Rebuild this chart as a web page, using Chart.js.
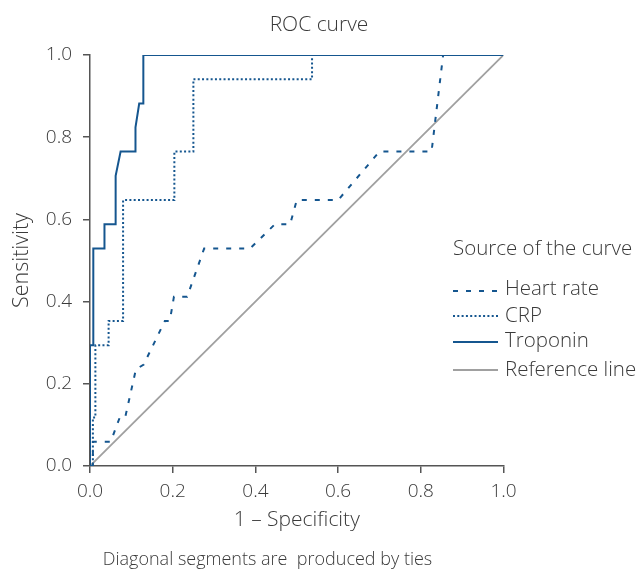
<!DOCTYPE html>
<html>
<head>
<meta charset="utf-8">
<script src="https://cdn.jsdelivr.net/npm/chart.js@4/dist/chart.umd.min.js"></script>
<style>
  body { margin: 0; background: #fff; }
  canvas { display: block; }
</style>
</head>
<body>
<canvas id="rocChart" width="638" height="572"></canvas>
<script>
var heartX = [0, 0.007, 0.007, 0.05, 0.072, 0.085, 0.111, 0.13, 0.181, 0.193, 0.203, 0.235, 0.276, 0.387, 0.447, 0.484, 0.50, 0.60, 0.70, 0.826, 0.854, 1.0];
var heartY = [0, 0, 0.059, 0.059, 0.118, 0.118, 0.235, 0.247, 0.353, 0.353, 0.412, 0.412, 0.529, 0.529, 0.588, 0.588, 0.647, 0.647, 0.765, 0.765, 1.0, 1.0];

var crpX = [0, 0.007, 0.007, 0.013, 0.013, 0.045, 0.045, 0.080, 0.080, 0.204, 0.204, 0.250, 0.250, 0.537, 0.537, 1.0];
var crpY = [0, 0, 0.118, 0.118, 0.294, 0.294, 0.353, 0.353, 0.647, 0.647, 0.765, 0.765, 0.941, 0.941, 1.0, 1.0];

var tropX = [0, 0, 0.008, 0.008, 0.035, 0.035, 0.062, 0.062, 0.074, 0.110, 0.110, 0.119, 0.129, 0.129, 1.0];
var tropY = [0, 0.294, 0.294, 0.529, 0.529, 0.588, 0.588, 0.706, 0.765, 0.765, 0.824, 0.882, 0.882, 1.0, 1.0];

var refX = [0, 1];
var refY = [0, 1];

var seriesNames = ['Heart rate', 'CRP', 'Troponin', 'Reference line'];
var axisTicks = [0, 0.2, 0.4, 0.6, 0.8, 1.0];
var footNote = 'Diagonal segments are  produced by ties';

const blue = '#15568f';
const grey = '#a0a0a0';
const textColor = '#3a3a3a';
const fontFamily = "'Open Sans', 'Liberation Sans', sans-serif";

function toPoints(xs, ys) {
  return xs.map((x, i) => ({x: x, y: ys[i]}));
}

// legend and footnote drawn by hand: the legend sits over the right edge
// of the plot and the note is not centred on the canvas
const sideLegend = {
  id: 'sideLegend',
  afterDatasetsDraw(chart) {
    const ctx = chart.ctx;
    const left = 453;
    ctx.save();
    ctx.fillStyle = textColor;
    ctx.font = '300 20.5px ' + fontFamily;
    ctx.textBaseline = 'alphabetic';
    ctx.textAlign = 'left';
    ctx.fillText('Source of the curve', left, 255);

    const rows = [
      {line: 291, text: 295},
      {line: 316, text: 322},
      {line: 342, text: 347},
      {line: 370, text: 376}
    ];
    chart.data.datasets.forEach((ds, i) => {
      const r = rows[i];
      ctx.save();
      ctx.strokeStyle = ds.borderColor;
      ctx.lineWidth = ds.borderWidth;
      ctx.setLineDash(ds.borderDash || []);
      ctx.beginPath();
      ctx.moveTo(left, r.line);
      ctx.lineTo(left + 45, r.line);
      ctx.stroke();
      ctx.restore();
      ctx.fillText(ds.label, left + 52, r.text);
    });

    ctx.font = '300 18px ' + fontFamily;
    ctx.textAlign = 'center';
    ctx.fillText(footNote, 267.5, 565);
    ctx.restore();
  }
};

const tickFont = {family: fontFamily, size: 19, weight: 300};

new Chart(document.getElementById('rocChart'), {
  type: 'line',
  data: {
    datasets: [{
      label: seriesNames[0],
      data: toPoints(heartX, heartY),
      borderColor: blue,
      borderWidth: 2,
      borderDash: [5, 8],
      order: 2
    }, {
      label: seriesNames[1],
      data: toPoints(crpX, crpY),
      borderColor: blue,
      borderWidth: 2,
      borderDash: [2, 2.3],
      order: 1
    }, {
      label: seriesNames[2],
      data: toPoints(tropX, tropY),
      borderColor: blue,
      borderWidth: 2,
      order: 0
    }, {
      label: seriesNames[3],
      data: toPoints(refX, refY),
      borderColor: grey,
      borderWidth: 1.8,
      order: 3
    }]
  },
  options: {
    responsive: false,
    animation: false,
    elements: {
      point: {radius: 0},
      line: {tension: 0, fill: false}
    },
    layout: {
      padding: {left: 0, right: 0, top: 0, bottom: 39.4}
    },
    scales: {
      x: {
        type: 'linear',
        min: 0,
        max: 1,
        afterBuildTicks: (scale) => { scale.ticks = axisTicks.map(v => ({value: v})); },
        afterFit: (scale) => { scale.height = 66.6; },
        ticks: {
          color: textColor,
          font: tickFont,
          padding: 7,
          callback: (v) => v.toFixed(1)
        },
        grid: {drawOnChartArea: false, tickLength: 7, color: '#555', lineWidth: 1.5},
        border: {color: '#555', width: 1.5},
        title: {
          display: true,
          text: '1 – Specificity',
          color: textColor,
          font: {family: fontFamily, size: 21, weight: 300},
          padding: {top: 0, bottom: 0}
        }
      },
      y: {
        type: 'linear',
        min: 0,
        max: 1,
        afterBuildTicks: (scale) => { scale.ticks = axisTicks.map(v => ({value: v})); },
        afterFit: (scale) => { scale.width = 90; },
        ticks: {
          color: textColor,
          font: tickFont,
          padding: 11,
          callback: (v) => v.toFixed(1)
        },
        grid: {drawOnChartArea: false, tickLength: 7, color: '#555', lineWidth: 1.5},
        border: {color: '#555', width: 1.5},
        title: {
          display: true,
          text: 'Sensitivity',
          color: textColor,
          font: {family: fontFamily, size: 21.5, weight: 300},
          padding: {top: 9, bottom: 0}
        }
      },
      // empty axis on the right only reserves room for the legend
      spacer: {
        type: 'linear',
        position: 'right',
        afterFit: (scale) => { scale.width = 134.5; },
        ticks: {display: false},
        grid: {display: false},
        border: {display: false}
      }
    },
    plugins: {
      legend: {display: false},
      tooltip: {enabled: false},
      title: {
        display: true,
        text: 'ROC curve',
        color: textColor,
        font: {family: fontFamily, size: 21, weight: 300},
        padding: {top: 12.4, bottom: 17.4}
      }
    }
  },
  plugins: [sideLegend]
});
</script>
</body>
</html>
